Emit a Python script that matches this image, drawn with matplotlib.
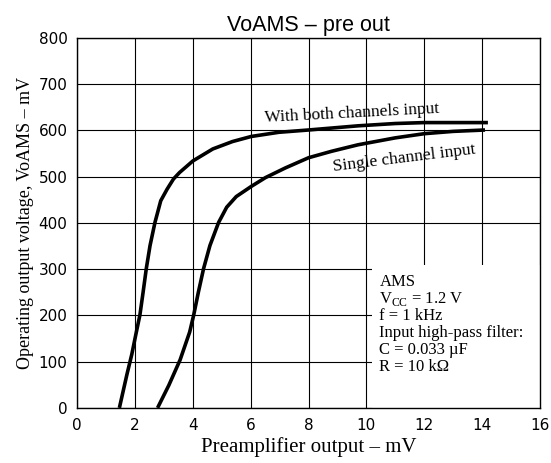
import matplotlib
matplotlib.use("Agg")
import matplotlib.pyplot as plt
from matplotlib.patches import Rectangle

# output voltage vs preamp output, both channels driven
both_x = [1.46, 1.72, 1.89, 2.03, 2.17, 2.28, 2.39, 2.52, 2.69, 2.89, 3.11, 3.33,
          3.54, 4.0, 4.69, 5.37, 6.02, 6.97, 8.0, 9.71, 11.0, 12.0, 13.0, 14.2]
both_y = [0, 72, 116, 159, 201, 250, 301, 351, 401, 448, 473, 495,
          509, 534, 560, 576, 587, 596, 601, 610, 615, 617, 617, 617]

# single channel driven
single_x = [2.78, 3.17, 3.56, 3.89, 4.03, 4.19, 4.37, 4.59, 4.89, 5.17, 5.5,
            6.02, 6.51, 7.2, 8.0, 8.8, 9.71, 11.0, 12.0, 13.0, 14.1]
single_y = [0, 49, 104, 164, 201, 250, 301, 351, 401, 434, 457,
            479, 498, 519, 541, 555, 569, 584, 593, 598, 601]

xticks = [0, 2, 4, 6, 8, 10, 12, 14, 16]
yticks = [0, 100, 200, 300, 400, 500, 600, 700, 800]

notes = ["AMS",
         r"V$_{\mathregular{CC}}$ = 1.2 V",
         "f = 1 kHz",
         "Input high-pass filter:",
         "C = 0.033 \u00b5F",
         "R = 10 k\u03a9"]

serif = ["Liberation Serif", "DejaVu Serif"]

fig = plt.figure(figsize=(5.51, 4.63), dpi=100)
ax = fig.add_axes([0.14, 0.119, 0.84, 0.799])

ax.set_xlim(0, 16)
ax.set_ylim(0, 800)
ax.set_xticks(xticks)
ax.set_yticks(yticks)
ax.tick_params(length=0, labelsize=11, pad=7)
ax.grid(True, color="black", linewidth=0.8)
ax.set_axisbelow(True)
for s in ax.spines.values():
    s.set_linewidth(1.0)

# blank panel behind the conditions text
ax.add_patch(Rectangle((10.2, 0), 5.8, 310, facecolor="white", edgecolor="none", zorder=1.5))

for xs, ys in [(both_x, both_y), (single_x, single_y)]:
    ax.plot(xs, ys, color="black", lw=2.6, solid_capstyle="butt",
            solid_joinstyle="round", zorder=3)

ax.text(9.5, 636, "With both channels input", family=serif, fontsize=12.5,
        ha="center", va="center", rotation=3)
ax.text(11.3, 540, "Single channel input", family=serif, fontsize=12.5,
        ha="center", va="center", rotation=7)

for i, line in enumerate(notes):
    ax.text(10.45, 272 - i * 36.5, line, family=serif, fontsize=12,
            ha="left", va="center", zorder=4)

ax.set_title("VoAMS \u2013 pre out", family="Liberation Sans", fontsize=15.5, pad=5)
ax.set_xlabel("Preamplifier output \u2013 mV", family=serif, fontsize=15, labelpad=3)
ax.set_ylabel("Operating output voltage, VoAMS \u2013 mV", family=serif, fontsize=13, labelpad=3)

fig.savefig("out.png", dpi=100)
